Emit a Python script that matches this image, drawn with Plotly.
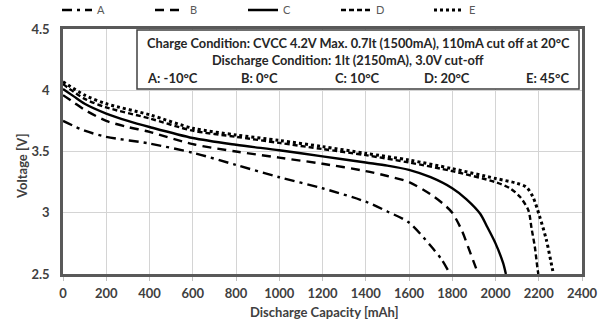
import plotly.graph_objects as go

# ---- data ----
cap_A = [0, 100, 200, 400, 600, 800, 1000, 1200, 1400, 1500, 1600, 1700, 1750, 1790]
volt_A = [3.75, 3.67, 3.62, 3.565, 3.49, 3.39, 3.29, 3.20, 3.09, 3.01, 2.92, 2.73, 2.62, 2.50]

cap_B = [0, 50, 100, 200, 300, 400, 600, 800, 1000, 1200, 1400, 1500, 1600, 1700, 1760, 1800, 1843, 1882, 1920]
volt_B = [3.96, 3.90, 3.84, 3.75, 3.70, 3.66, 3.56, 3.50, 3.45, 3.40, 3.34, 3.30, 3.25, 3.15, 3.07, 3.00, 2.86, 2.68, 2.50]

cap_C = [0, 50, 100, 200, 300, 400, 600, 800, 1000, 1200, 1400, 1500, 1600, 1700, 1800, 1866, 1930, 1960, 2000, 2035, 2048]
volt_C = [4.01, 3.95, 3.89, 3.81, 3.75, 3.70, 3.61, 3.555, 3.51, 3.46, 3.41, 3.385, 3.35, 3.29, 3.20, 3.11, 2.99, 2.89, 2.75, 2.59, 2.50]

cap_D = [0, 100, 200, 400, 600, 800, 1000, 1200, 1400, 1600, 1800, 2000, 2067, 2113, 2152, 2167, 2182, 2193, 2198]
volt_D = [4.05, 3.93, 3.86, 3.77, 3.67, 3.62, 3.57, 3.52, 3.47, 3.41, 3.34, 3.25, 3.20, 3.13, 3.02, 2.87, 2.72, 2.56, 2.50]

cap_E = [0, 100, 200, 400, 600, 800, 1000, 1200, 1400, 1600, 1800, 2000, 2100, 2142, 2173, 2204, 2235, 2262, 2268]
volt_E = [4.07, 3.96, 3.89, 3.80, 3.69, 3.635, 3.59, 3.54, 3.485, 3.43, 3.36, 3.28, 3.24, 3.21, 3.13, 2.97, 2.78, 2.55, 2.50]

series_names = ["A", "B", "C", "D", "E"]
box_lines = [
    "Charge Condition: CVCC 4.2V Max. 0.7lt (1500mA), 110mA cut off at 20°C",
    "Discharge Condition: 1lt (2150mA), 3.0V cut-off",
]
temp_labels = ["A: -10°C", "B: 0°C", "C: 10°C", "D: 20°C", "E: 45°C"]

# ---- layout geometry ----
W, H = 602, 326
L, R, T, B = 63, 20, 29, 52
PW, PH = W - L - R, H - T - B


def px(x):
    return (x - L) / PW


def py(y):
    return (H - B - y) / PH


FONT = "Lato"
TXT = "#262626"

styles = [
    dict(dash="10px,5px,3px,5px", width=2.4),
    dict(dash="9px,6px", width=2.4),
    dict(dash="solid", width=2.4),
    dict(dash="5px,3px", width=2.4),
    dict(dash="3px,3px", width=3),
]

fig = go.Figure()
for name, xs, ys, st in zip(series_names,
                            [cap_A, cap_B, cap_C, cap_D, cap_E],
                            [volt_A, volt_B, volt_C, volt_D, volt_E],
                            styles):
    fig.add_trace(go.Scatter(
        x=xs, y=ys, name=name, mode="lines",
        line=dict(color="black", width=st["width"], dash=st["dash"],
                  shape="spline", smoothing=0.8),
    ))

axis_common = dict(
    showline=True, linewidth=2.5, linecolor="#595959", mirror=True,
    showgrid=True, gridcolor="#d4d4d4", gridwidth=1,
    zeroline=False,
    tickfont=dict(family=FONT, size=13, color="#404040", weight="bold"),
)

fig.update_xaxes(range=[0, 2400], dtick=200, tick0=0,
                 ticks="outside", ticklen=4, tickcolor="#bfbfbf",
                 ticklabelstandoff=2, **axis_common)
fig.update_yaxes(range=[2.5, 4.5], dtick=0.5, tick0=2.5,
                 ticks="", ticklabelstandoff=8, **axis_common)

shapes = [dict(type="rect", xref="paper", yref="paper",
               x0=px(137), x1=px(579), y0=py(89), y1=py(30),
               fillcolor="white", line=dict(color="#404040", width=1.5),
               layer="above")]

ann = []
ann.append(dict(text=box_lines[0], x=px(358), y=py(43), xref="paper", yref="paper",
                showarrow=False, xanchor="center", yanchor="middle",
                font=dict(family=FONT, size=12.8, color=TXT, weight="bold")))
ann.append(dict(text=box_lines[1], x=px(348), y=py(60), xref="paper", yref="paper",
                showarrow=False, xanchor="center", yanchor="middle",
                font=dict(family=FONT, size=12.8, color=TXT, weight="bold")))
for lab, cx in zip(temp_labels, [172, 259, 357, 447, 547]):
    ann.append(dict(text=lab, x=px(cx), y=py(78), xref="paper", yref="paper",
                    showarrow=False, xanchor="center", yanchor="middle",
                    font=dict(family=FONT, size=13, color=TXT, weight="bold")))
ann.append(dict(text="Voltage [V]", x=px(22), y=py(167), xref="paper", yref="paper",
                showarrow=False, textangle=-90, xanchor="center", yanchor="middle",
                font=dict(family=FONT, size=13, color="#404040", weight="bold")))
ann.append(dict(text="Discharge Capacity [mAh]", x=px(324), y=py(312), xref="paper", yref="paper",
                showarrow=False, xanchor="center", yanchor="middle",
                font=dict(family=FONT, size=13, color="#404040", weight="bold")))

fig.update_layout(
    width=W, height=H,
    margin=dict(l=L, r=R, t=T, b=B, autoexpand=False),
    paper_bgcolor="white", plot_bgcolor="white",
    shapes=shapes, annotations=ann,
    showlegend=True,
    legend=dict(orientation="h", xref="container", yref="container",
                x=57 / W, y=1 - 10 / H, xanchor="left", yanchor="middle",
                font=dict(family=FONT, size=11, color="#595959"),
                entrywidth=48, entrywidthmode="pixels", itemwidth=30,
                bgcolor="rgba(0,0,0,0)", borderwidth=0, tracegroupgap=0),
)

fig.write_html("out.html")
